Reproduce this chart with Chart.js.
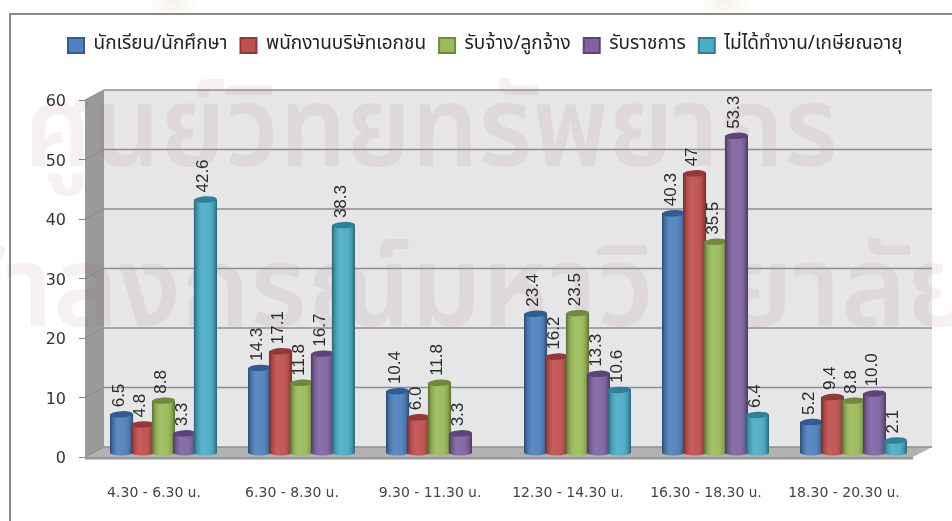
<!DOCTYPE html>
<html><head><meta charset="utf-8">
<script src="https://cdn.jsdelivr.net/npm/chart.js@4"></script>
<style>html,body{margin:0;padding:0;background:#fff}#w{position:relative;width:952px;height:521px}canvas{filter:blur(.35px)}</style>
</head><body><div id="w"><canvas id="c" width="952" height="521"></canvas></div>
<script>
const categories = ["4.30 - 6.30 น.","6.30 - 8.30 น.","9.30 - 11.30 น.","12.30 - 14.30 น.","16.30 - 18.30 น.","18.30 - 20.30 น."];
const seriesNames = ["นักเรียน/นักศึกษา","พนักงานบริษัทเอกชน","รับจ้าง/ลูกจ้าง","รับราชการ","ไม่ได้ทำงาน/เกษียณอายุ"];
const students = [6.5,14.3,10.4,23.4,40.3,5.2];
const employees = [4.8,17.1,6.0,16.2,47,9.4];
const hired = [8.8,11.8,11.8,23.5,35.5,8.8];
const officials = [3.3,16.7,3.3,13.3,53.3,10.0];
const retired = [42.6,38.3,null,10.6,6.4,2.1];
const studentLabels = ["6.5","14.3","10.4","23.4","40.3","5.2"];
const employeeLabels = ["4.8","17.1","6.0","16.2","47","9.4"];
const hiredLabels = ["8.8","11.8","11.8","23.5","35.5","8.8"];
const officialLabels = ["3.3","16.7","3.3","13.3","53.3","10.0"];
const retiredLabels = ["42.6","38.3","","10.6","6.4","2.1"];
const yTicks = [0,10,20,30,40,50,60];
const watermark = ["ศูนย์วิทยทรัพยากร","จุฬาลงกรณ์มหาวิทยาลัย"];

const fills = ["#4f81bd","#c0504d","#9bbb59","#8064a2","#4bacc6"];
const edges = ["#2f5c92","#8f3a38","#71893f","#5a4578","#2f8199"];
const valueLabels = [studentLabels,employeeLabels,hiredLabels,officialLabels,retiredLabels];
const seriesValues = [students,employees,hired,officials,retired];
const THAI = '"Noto Sans Thai","Noto Sans","Liberation Sans","DejaVu Sans",sans-serif';
const DX = 19, DY = -10;

const scene = {
  id:'scene',
  beforeLayout(chart){
    const lg=chart.legend;
    if(!lg.__wrapped){
      const fit=lg.fit;
      lg.fit=function(){const w=this.maxWidth;this.maxWidth=2000;fit.call(this);this.maxWidth=w;this.width=w;this.height=92;};
      lg.__wrapped=true;
    }
  },
  afterLayout(chart){
    const lg=chart.legend;
    lg.left=55; lg.right=1400; lg.top=23; lg.bottom=100;
  },
  beforeDraw(chart){
    const ctx=chart.ctx;
    ctx.save();
    [[174,0],[725,0]].forEach(([x,y])=>{
      const g=ctx.createRadialGradient(x,y,2,x,y,26);
      g.addColorStop(0,'rgba(215,205,170,.25)');g.addColorStop(1,'rgba(215,205,170,0)');
      ctx.fillStyle=g;ctx.fillRect(x-30,0,60,14);
    });
    ctx.restore();
  },
  beforeDatasetsDraw(chart){
    const {ctx, chartArea:a, scales:{y}} = chart;
    const y0 = y.getPixelForValue(0), y60 = y.getPixelForValue(60);
    ctx.save();
    // outer frame
    ctx.strokeStyle='#8a8a8a'; ctx.lineWidth=2;
    ctx.beginPath(); ctx.moveTo(10,521); ctx.lineTo(10,14); ctx.lineTo(952,14); ctx.stroke();
    // back wall
    ctx.fillStyle='#e6e6e6';
    ctx.fillRect(a.left+DX,y60+DY,a.right-a.left,y0-y60);
    // side wall
    ctx.fillStyle='#9a9a9a';
    ctx.beginPath(); ctx.moveTo(a.left,y60); ctx.lineTo(a.left+DX,y60+DY); ctx.lineTo(a.left+DX,y0+DY); ctx.lineTo(a.left,y0); ctx.closePath(); ctx.fill();
    // floor
    ctx.fillStyle='#b2b2b2';
    ctx.beginPath(); ctx.moveTo(a.left,y0); ctx.lineTo(a.left+DX,y0+DY); ctx.lineTo(a.right+DX,y0+DY); ctx.lineTo(a.right,y0); ctx.closePath(); ctx.fill();
    ctx.fillStyle='#969696';
    ctx.fillRect(a.left,y0,a.right-a.left,2.5);
    // watermark
    ctx.fillStyle='rgba(130,40,95,0.07)';
    ctx.textBaseline='alphabetic';
    ctx.font='600 112px '+THAI;
    ctx.save(); ctx.translate(24,166); ctx.scale(.95,1); ctx.textAlign='left'; ctx.fillText(watermark[0],0,0); ctx.restore();
    ctx.textAlign='right';
    ctx.fillText(watermark[1],975,326);
    // gridlines on the back wall and the side wall
    yTicks.forEach(t=>{
      const p=y.getPixelForValue(t);
      ctx.strokeStyle='#8f8f8f'; ctx.lineWidth=1.5;
      ctx.beginPath(); ctx.moveTo(a.left+DX,p+DY); ctx.lineTo(a.right+DX,p+DY); ctx.stroke();
      ctx.strokeStyle='#888'; ctx.lineWidth=1;
      ctx.beginPath(); ctx.moveTo(a.left,p); ctx.lineTo(a.left+DX,p+DY); ctx.stroke();
    });
    // cylinders, first series first so later series sit in front
    ctx.translate(DX/2,DY/2+1);
    chart.data.datasets.forEach((ds,i)=>{
      const meta=chart.getDatasetMeta(i);
      meta.controller.draw();
      meta.data.forEach((el,j)=>{
        if(seriesValues[i][j]===null) return;
        const w=el.width, l=el.x-w/2, top=el.y, bot=el.base;
        const path=()=>{ctx.beginPath();ctx.moveTo(l,top);ctx.lineTo(l,bot);ctx.ellipse(el.x,bot,w/2,3,0,Math.PI,0,true);ctx.lineTo(l+w,top);ctx.closePath();};
        ctx.fillStyle=fills[i]; path(); ctx.fill();
        const g=ctx.createLinearGradient(l,0,l+w,0);
        g.addColorStop(0,'rgba(0,0,0,.42)');g.addColorStop(.14,'rgba(0,0,0,.12)');
        g.addColorStop(.35,'rgba(255,255,255,.08)');g.addColorStop(.62,'rgba(255,255,255,.05)');
        g.addColorStop(.86,'rgba(0,0,0,.12)');g.addColorStop(1,'rgba(0,0,0,.42)');
        ctx.fillStyle=g; path(); ctx.fill();
        ctx.fillStyle=edges[i];
        ctx.beginPath(); ctx.ellipse(el.x,top,w/2,3.2,-0.05,0,Math.PI*2); ctx.fill();
      });
    });
    // rotated value labels
    ctx.fillStyle='#2a2a2a'; ctx.font='17px "Liberation Sans",sans-serif';
    ctx.textAlign='left'; ctx.textBaseline='middle';
    chart.data.datasets.forEach((ds,i)=>{
      chart.getDatasetMeta(i).data.forEach((el,j)=>{
        const s=valueLabels[i][j]; if(!s) return;
        ctx.save(); ctx.translate(el.x-2,el.y-7); ctx.rotate(-Math.PI/2); ctx.fillText(s,0,0); ctx.restore();
      });
    });
    ctx.restore();
    return false;
  }
};

new Chart(document.getElementById('c'),{
  type:'bar',
  data:{labels:categories,datasets:seriesNames.map((n,i)=>({
    label:n,data:seriesValues[i],backgroundColor:fills[i],borderColor:edges[i],borderWidth:2,
    categoryPercentage:0.76,barPercentage:1.1
  }))},
  plugins:[scene],
  options:{
    responsive:false,animation:false,devicePixelRatio:1,
    layout:{padding:{top:8,right:39,bottom:0,left:0}},
    plugins:{
      tooltip:{enabled:false},
      legend:{position:'top',align:'start',
        labels:{boxWidth:16,boxHeight:15,padding:13,color:'#222',font:{family:THAI,size:19}}}
    },
    scales:{
      x:{grid:{display:false},border:{display:false},
        afterFit(s){s.height=64;},
        ticks:{padding:20,color:'#444',maxRotation:0,autoSkip:false,font:{family:'"DejaVu Sans",'+THAI,size:14}}},
      y:{min:0,max:60,
        afterFit(s){s.width=85;},
        afterBuildTicks(s){s.ticks=yTicks.map(v=>({value:v}));},
        grid:{drawOnChartArea:false,drawTicks:true,tickLength:6,color:'#888'},border:{display:false},
        ticks:{padding:13,labelOffset:2,color:'#333',font:{family:'"DejaVu Sans",sans-serif',size:16}}}
    }
  }
});
</script></body></html>
